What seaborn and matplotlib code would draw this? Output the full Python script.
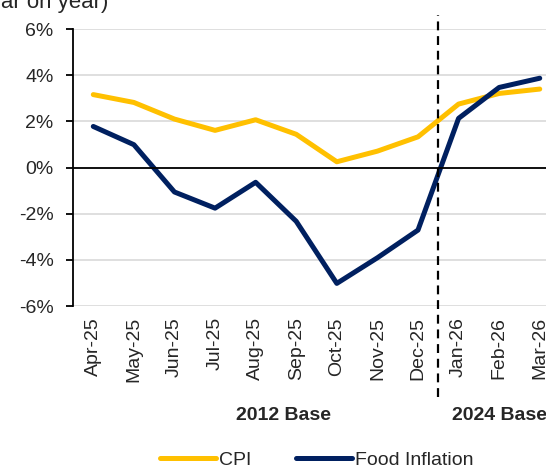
import matplotlib
matplotlib.use("Agg")
import matplotlib.pyplot as plt
import matplotlib.transforms as mtransforms
import seaborn as sns
import pandas as pd

months = ["Apr-25", "May-25", "Jun-25", "Jul-25", "Aug-25", "Sep-25",
          "Oct-25", "Nov-25", "Dec-25", "Jan-26", "Feb-26", "Mar-26"]
cpi = [3.16, 2.82, 2.10, 1.61, 2.07, 1.44, 0.25, 0.71, 1.33, 2.75, 3.21, 3.40]
food = [1.78, 0.99, -1.06, -1.76, -0.64, -2.33, -5.02, -3.91, -2.71, 2.13, 3.47, 3.87]
series_names = ["CPI", "Food Inflation"]
yticks = [-6, -4, -2, 0, 2, 4, 6]

df = pd.DataFrame({
    "month": months * 2,
    "value": cpi + food,
    "series": [series_names[0]] * len(months) + [series_names[1]] * len(months),
})

sns.set_style("white")
plt.rcParams["font.family"] = ["Liberation Sans Narrow", "Liberation Sans", "DejaVu Sans"]
FS = 14

fig = plt.figure(figsize=(5.46, 4.71), dpi=100)
ax = fig.add_axes([0.1337, 0.3503, 0.892, 0.588])

sns.lineplot(data=df, x="month", y="value", hue="series", sort=False,
             palette=["#FFC000", "#002060"], linewidth=3.6, ax=ax)

ax.set_xlim(-0.5, 11.5)
ax.set_ylim(-6, 6)
ax.set_yticks(yticks)
ax.set_yticklabels([f"{v}%" for v in yticks], fontsize=FS)
ax.yaxis.grid(True, color="#d9d9d9", linewidth=1.2)
ax.set_axisbelow(True)
ax.axhline(0, color="black", linewidth=1.3)

ax.set_xticks(range(len(months)))
ax.set_xticklabels(months, rotation=90, fontsize=FS)
ax.tick_params(axis="x", length=0, pad=8)
ax.tick_params(axis="y", length=5, width=1.3, direction="out", color="black", pad=9, left=True)
ax.set_xlabel("")
ax.set_ylabel("")

for s in ["top", "right", "bottom"]:
    ax.spines[s].set_visible(False)
ax.spines["left"].set_color("black")
ax.spines["left"].set_linewidth(1.3)

# base change divider
ax.axvline(8.5, ymin=-0.329, ymax=1.05, color="black", linewidth=1.6,
           dashes=(4, 2.6), clip_on=False)

trans = mtransforms.blended_transform_factory(ax.transData, fig.transFigure)
ax.text(4.69, 1 - 415 / 471, "2012 Base", transform=trans, ha="center",
        va="center", fontsize=FS, fontweight="bold")
ax.text(10.02, 1 - 415 / 471, "2024 Base", transform=trans, ha="center",
        va="center", fontsize=FS, fontweight="bold")

# title is cropped at the top edge in the reference
fig.text(108 / 546, 1 - 8 / 471, "(% year on year)", ha="right",
         va="baseline", fontsize=16)

ax.legend(loc="center", bbox_to_anchor=(0.58, 0.023), bbox_transform=fig.transFigure,
          ncol=2, frameon=False, fontsize=FS, handlelength=2.9, handletextpad=0.15,
          columnspacing=2.3)

fig.savefig("out.png", dpi=100)
